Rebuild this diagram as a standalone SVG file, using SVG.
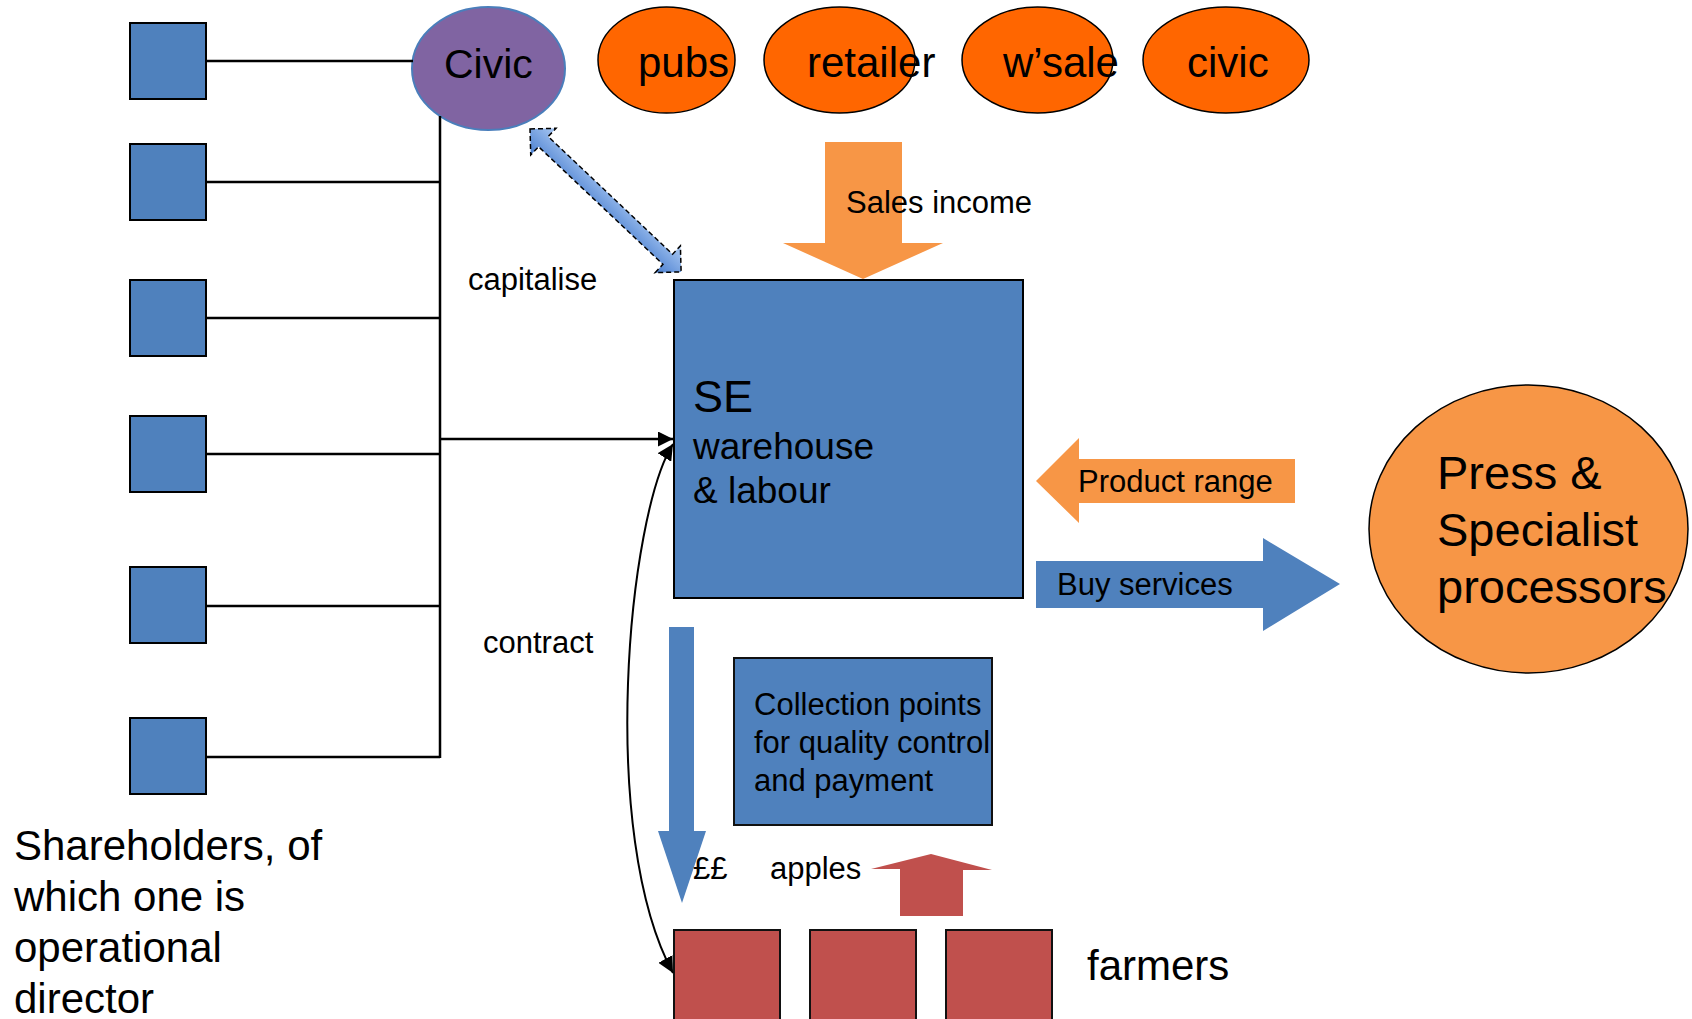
<svg xmlns="http://www.w3.org/2000/svg" width="1692" height="1019" viewBox="0 0 1692 1019">
<style>
text{font-family:"Liberation Sans",Arial,sans-serif;fill:#000}
.sh{fill:#4F81BD;stroke:#000;stroke-width:2}
.oval{fill:#FF6600;stroke:#000;stroke-width:1.5}
.blue{fill:#4F81BD}
.orange{fill:#F79646}
.red{fill:#C0504D}
.farm{fill:#C0504D;stroke:#111;stroke-width:2}
.ln{fill:none;stroke:#000;stroke-width:2.5}
.lbl{font-size:31px}
.big{font-size:42px}
</style>
<defs>
<marker id="ah" viewBox="0 0 10 10" refX="10" refY="5" markerWidth="6" markerHeight="6" markerUnits="strokeWidth" orient="auto-start-reverse">
<path d="M0,0 L10,5 L0,10 z" fill="#000"/>
</marker>
<marker id="ah2" viewBox="0 0 10 10" refX="10" refY="5" markerWidth="8" markerHeight="8" markerUnits="strokeWidth" orient="auto-start-reverse">
<path d="M0,0 L10,5 L0,10 z" fill="#000"/>
</marker>
<linearGradient id="dg" x1="0" y1="0" x2="0" y2="1">
<stop offset="0" stop-color="#A9C8F2"/>
<stop offset="1" stop-color="#4A7FD0"/>
</linearGradient>
</defs>

<!-- Shareholders -->
<g id="sh1"><rect class="sh" x="130" y="23" width="76" height="76"/></g>
<g id="sh2"><rect class="sh" x="130" y="144" width="76" height="76"/></g>
<g id="sh3"><rect class="sh" x="130" y="280" width="76" height="76"/></g>
<g id="sh4"><rect class="sh" x="130" y="416" width="76" height="76"/></g>
<g id="sh5"><rect class="sh" x="130" y="567" width="76" height="76"/></g>
<g id="sh6"><rect class="sh" x="130" y="718" width="76" height="76"/></g>
<g id="shareholders-label">
<text class="big" x="14" y="860">Shareholders, of</text>
<text class="big" x="14" y="911">which one is</text>
<text class="big" x="14" y="962">operational</text>
<text class="big" x="14" y="1013">director</text>
</g>

<!-- Top ovals -->
<g id="civic-investor"><ellipse cx="488.5" cy="68.5" rx="76.5" ry="61.5" fill="#8064A2" stroke="#4A7EBB" stroke-width="2"/>
<text x="444" y="78" style="font-size:41px">Civic</text></g>
<g id="pubs"><ellipse class="oval" cx="666.5" cy="60" rx="68.5" ry="53"/><text class="big" x="638" y="77">pubs</text></g>
<g id="retailer"><ellipse class="oval" cx="839.5" cy="60" rx="75.5" ry="53"/><text class="big" x="807" y="77">retailer</text></g>
<g id="wsale"><ellipse class="oval" cx="1037.5" cy="60" rx="75.5" ry="53"/><text class="big" x="1003" y="77">w’sale</text></g>
<g id="civic"><ellipse class="oval" cx="1226" cy="60" rx="83" ry="53"/><text class="big" x="1187" y="77">civic</text></g>

<!-- Sales income arrow -->
<g id="sales-income">
<polygon class="orange" points="825,142 902,142 902,243 943,243 863,279 783,243 825,243"/>
<text class="lbl" x="846" y="213">Sales income</text>
</g>

<!-- capitalise double arrow -->
<g id="capitalise">
<polygon transform="translate(530,129) rotate(43.4)" fill="url(#dg)" stroke="#000" stroke-width="1.5" stroke-dasharray="5,3" points="0,0 18.4,-18.4 18.4,-7 189.6,-7 189.6,-18.4 208,0 189.6,18.4 189.6,7 18.4,7 18.4,18.4"/>
<text class="lbl" x="468" y="290">capitalise</text>
</g>

<!-- SE box -->
<g id="se">
<rect x="674" y="280" width="349" height="318" fill="#4F81BD" stroke="#000" stroke-width="2"/>
<text x="693" y="412" style="font-size:45px">SE</text>
<text x="693" y="459" style="font-size:37px">warehouse</text>
<text x="693" y="503" style="font-size:37px">&amp; labour</text>
</g>

<!-- Product range -->
<g id="product-range">
<polygon class="orange" points="1036,481 1079,438 1079,459 1295,459 1295,503 1079,503 1079,523"/>
<text class="lbl" x="1078" y="492">Product range</text>
</g>

<!-- Buy services -->
<g id="buy-services">
<polygon class="blue" points="1036,561 1263,561 1263,538 1340,584 1263,631 1263,608 1036,608"/>
<text class="lbl" x="1057" y="595">Buy services</text>
</g>

<!-- Press & Specialist -->
<g id="press">
<ellipse cx="1528.5" cy="529" rx="159.5" ry="144" fill="#F79646" stroke="#000" stroke-width="1.5"/>
<text x="1437" y="489" style="font-size:47px">Press &amp;</text>
<text x="1437" y="546" style="font-size:47px">Specialist</text>
<text x="1437" y="603" style="font-size:47px">processors</text>
</g>

<!-- Collection points -->
<g id="collection">
<rect x="734" y="658" width="258" height="167" fill="#4F81BD" stroke="#111" stroke-width="2"/>
<text class="lbl" x="754" y="715">Collection points</text>
<text class="lbl" x="754" y="753">for quality control</text>
<text class="lbl" x="754" y="791">and payment</text>
</g>

<!-- money arrow -->
<g id="money">
<polygon class="blue" points="669,627 694,627 694,831 706,831 682,903 658,831 669,831"/>
<text class="lbl" x="693" y="879">££</text>
</g>

<!-- apples arrow -->
<g id="apples">
<text class="lbl" x="770" y="879">apples</text>
<polygon class="red" points="900,916 963,916 963,870 992,870 931,854 871,869 900,869"/>
</g>

<!-- farmers -->
<g id="farmer1"><rect class="farm" x="674" y="930" width="106" height="100"/></g>
<g id="farmer2"><rect class="farm" x="810" y="930" width="106" height="100"/></g>
<g id="farmer3"><rect class="farm" x="946" y="930" width="106" height="100"/></g>
<g id="farmers-label"><text class="big" x="1087" y="980">farmers</text></g>

<!-- contract label -->
<g id="contract-label"><text class="lbl" x="483" y="653">contract</text></g>

<!-- connectors -->
<g id="connectors">
<line class="ln" x1="206" y1="61" x2="413" y2="61"/>
<line class="ln" x1="206" y1="182" x2="440" y2="182"/>
<line class="ln" x1="206" y1="318" x2="440" y2="318"/>
<line class="ln" x1="206" y1="454" x2="440" y2="454"/>
<line class="ln" x1="206" y1="606" x2="440" y2="606"/>
<line class="ln" x1="206" y1="757" x2="440" y2="757"/>
<line class="ln" x1="440" y1="116" x2="440" y2="758"/>
<line class="ln" x1="440" y1="439" x2="673" y2="439" marker-end="url(#ah)"/>
<path d="M673,444 C628,515 598,835 673,973" fill="none" stroke="#000" stroke-width="2" marker-start="url(#ah2)" marker-end="url(#ah2)"/>
</g>
</svg>
